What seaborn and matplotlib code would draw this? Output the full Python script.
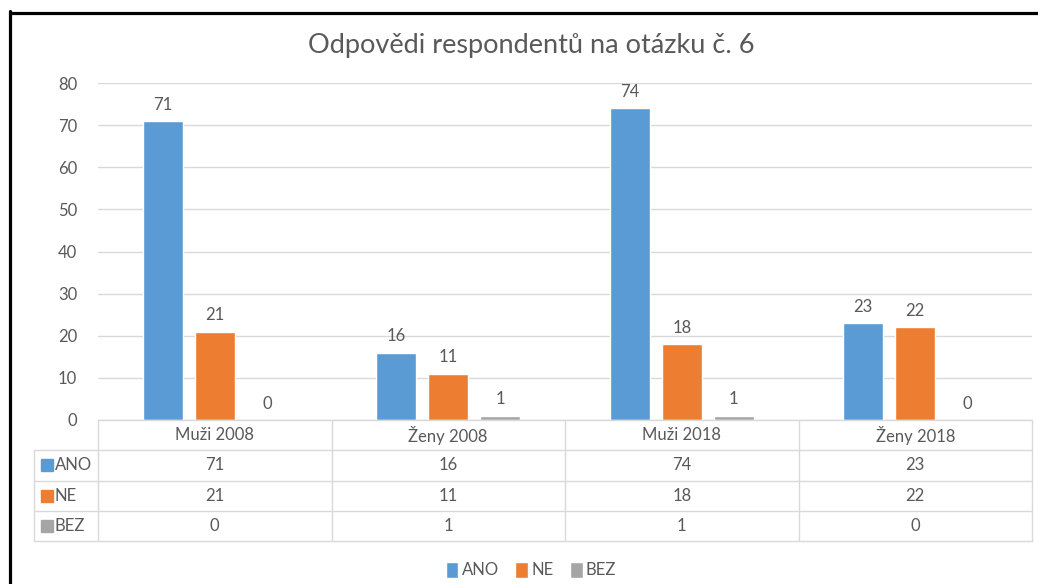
import numpy as np
import pandas as pd
import matplotlib.pyplot as plt
from matplotlib.lines import Line2D
import seaborn as sns

groups = ["Muži 2008", "Ženy 2008", "Muži 2018", "Ženy 2018"]
answers = ["ANO", "NE", "BEZ"]
ano = [71, 16, 74, 23]
ne = [21, 11, 18, 22]
bez = [0, 1, 1, 0]
colors = ["#5B9BD5", "#ED7D31", "#A5A5A5"]
title = "Odpovědi respondentů na otázku č. 6"

txt = "#595959"
grid = "#D9D9D9"


def main():
    df = pd.DataFrame({
        "skupina": groups * 3,
        "odpoved": np.repeat(answers, len(groups)),
        "pocet": ano + ne + bez,
    })
    values = [ano, ne, bez]

    sns.set_theme(style="white")
    plt.rcParams["font.family"] = ["Lato", "DejaVu Sans"]

    fig = plt.figure(figsize=(10.38, 5.84), dpi=100)
    ax = fig.add_axes([98 / 1038, 1 - 420 / 584, 934 / 1038, 337 / 584])

    sns.barplot(data=df, x="skupina", y="pocet", hue="odpoved", palette=colors,
                saturation=1, width=0.67, gap=0.23, errorbar=None, ax=ax)

    handles, labels = ax.get_legend_handles_labels()
    ax.get_legend().remove()

    # data labels over bars
    for cont, vals in zip(ax.containers, values):
        ax.bar_label(cont, labels=[str(v) for v in vals], padding=6,
                     fontsize=12, color=txt)

    ax.set_xlim(-0.5, len(groups) - 0.5)
    ax.set_ylim(0, 80)
    ax.set_yticks(range(0, 81, 10))
    ax.yaxis.grid(True, color=grid, lw=1)
    ax.set_axisbelow(True)
    for s in ax.spines.values():
        s.set_visible(False)
    ax.tick_params(axis="y", length=0, pad=15, labelsize=12, labelcolor=txt)
    ax.set_xticks([])
    ax.set_xlabel("")
    ax.set_ylabel("")

    # data table under the chart
    tr = ax.get_xaxis_transform()
    h = 30.3 / 337
    x_left = -0.5 - 64 / 233.5
    n = len(groups)
    kw = dict(transform=tr, color=grid, lw=1, clip_on=False)
    ax.plot([-0.5, n - 0.5], [0, 0], **kw)
    for r in range(1, 5):
        ax.plot([x_left, n - 0.5], [-r * h, -r * h], **kw)
    for b in np.arange(-0.5, n, 1.0):
        ax.plot([b, b], [0, -4 * h], **kw)
    ax.plot([x_left, x_left], [-h, -4 * h], **kw)

    for i, g in enumerate(groups):
        ax.text(i, -0.5 * h, g, transform=tr, ha="center", va="center",
                fontsize=12, color=txt)
        for r, vals in enumerate(values):
            ax.text(i, -(r + 1.5) * h, str(vals[i]), transform=tr,
                    ha="center", va="center", fontsize=12, color=txt)

    for r, (a, c) in enumerate(zip(answers, colors)):
        y = -(r + 1.5) * h
        ax.plot([-0.5 - 51 / 233.5], [y], marker="s", ms=8, color=c,
                transform=tr, clip_on=False)
        ax.text(-0.5 - 43 / 233.5, y, a, transform=tr, ha="left", va="center",
                fontsize=12, color=txt)

    fig.text(531 / 1038, 1 - 45 / 584, title, ha="center", va="center",
             fontsize=19.5, color=txt)

    leg = fig.legend(handles, labels, loc="center",
                     bbox_to_anchor=(531 / 1038, 1 - 570 / 584), ncol=3,
                     frameon=False, handlelength=0.75, handleheight=1.1,
                     handletextpad=0.2, columnspacing=1.0, fontsize=12)
    for t in leg.get_texts():
        t.set_color(txt)

    # black frame of the screenshot
    fig.add_artist(Line2D([9.5 / 1038, 1], [1 - 12.5 / 584] * 2,
                          transform=fig.transFigure, color="black", lw=2.3))
    fig.add_artist(Line2D([9.5 / 1038] * 2, [0, 1 - 11 / 584],
                          transform=fig.transFigure, color="black", lw=2.3))

    fig.savefig("out.png", dpi=100)


if __name__ == "__main__":
    main()
